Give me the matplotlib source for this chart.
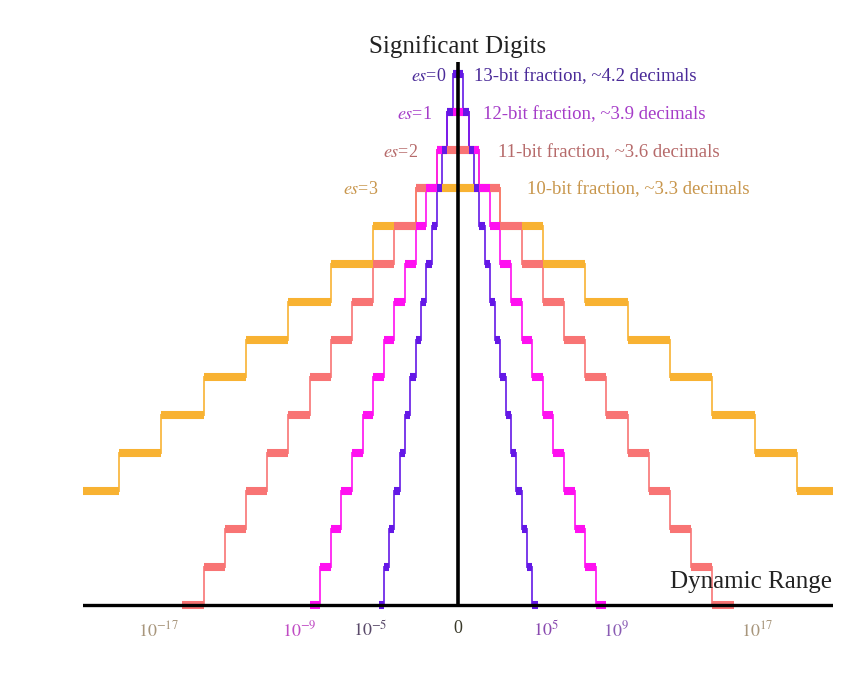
import numpy as np
import matplotlib
matplotlib.use("Agg")
import matplotlib.pyplot as plt

plt.rcParams['font.family'] = ['Liberation Serif', 'DejaVu Serif']
plt.rcParams['mathtext.fontset'] = 'stix'

# posit16 precision staircases, x in binades (log2 of magnitude), y in significant bits
es_values = [0, 1, 2, 3]
step_binades = [1, 2, 4, 8]
sig_bits = {
    0: [14, 13, 12, 11, 10, 9, 8, 7, 6, 5, 4, 3, 2, 1, 0],
    1: [13, 12, 11, 10, 9, 8, 7, 6, 5, 4, 3, 2, 1, 0],
    2: [12, 11, 10, 9, 8, 7, 6, 5, 4, 3, 2, 1, 0],
    3: [11, 10, 9, 8, 7, 6, 5, 4, 3, 2, 1, 0],
}
labels = ['13-bit fraction, ~4.2 decimals', '12-bit fraction, ~3.9 decimals',
          '11-bit fraction, ~3.6 decimals', '10-bit fraction, ~3.3 decimals']
tick_exps = [-17, -9, -5, 0, 5, 9, 17]
tick_labels = [r'$10^{-17}$', r'$10^{-9}$', r'$10^{-5}$', '0', r'$10^{5}$', r'$10^{9}$', r'$10^{17}$']

line_colors = ['#6418e6', '#ff10f0', '#f87474', '#f8b232']
text_colors = ['#4a2a98', '#a53cc8', '#b66a6a', '#c8964c']
tick_colors = ['#a8967c', '#c04cc4', '#5a4a6a', '#3a3a2a', '#8a4ab0', '#8a5cb4', '#a8967c']

fig = plt.figure(figsize=(8.65, 6.84), dpi=100)
ax = fig.add_axes([0.096, 0.0994, 0.867, 0.81])

# draw widest (es=3) first so narrower staircases sit on top
for es, w, col in reversed(list(zip(es_values, step_binades, line_colors))):
    bits = np.array(sig_bits[es], dtype=float)
    n = len(bits)
    # horizontal levels: top spans [-w, w], then each level one step outward
    starts = np.concatenate([[-w], w * np.arange(1, n)])
    ends = np.concatenate([[w], w * np.arange(2, n + 1)])
    for sgn in (1, -1):
        for i in range(n):
            xs = [starts[i], ends[i]] if i == 0 else [sgn * starts[i], sgn * ends[i]]
            ax.plot(xs, [bits[i], bits[i]], color=col, lw=5.8, solid_capstyle='butt', zorder=2)
        for i in range(1, n):
            ax.plot([sgn * starts[i]] * 2, [bits[i - 1], bits[i]], color=col, lw=1.4,
                    alpha=0.85, zorder=1)

xmax = 70.75
ax.axhline(0, color='black', lw=2.4, zorder=5)
ax.plot([0, 0], [0, 14.33], color='black', lw=2.6, zorder=5)

ax.set_xlim(-xmax, xmax)
ax.set_ylim(-0.3, 14.33)
for s in ax.spines.values():
    s.set_visible(False)
ax.set_yticks([])
ax.set_xticks(np.array(tick_exps) * np.log2(10.0))
ax.set_xticklabels(tick_labels, fontsize=13)
ax.tick_params(axis='x', length=0, pad=3)
for lbl, c in zip(ax.get_xticklabels(), tick_colors):
    lbl.set_color(c)

# es labels
es_x = [-2.1, -4.9, -7.5, -15.1]
txt_x = [3.0, 4.7, 7.5, 13.0]
for es, ex, tx, tc in zip(es_values, es_x, txt_x, text_colors):
    y = sig_bits[es][0] - 0.05
    ax.text(ex, y, r'$es$=%d' % es, color=tc, fontsize=13, ha='right', va='center')
    ax.text(tx, y, labels[es], color=tc, fontsize=13.5, ha='left', va='center')

ax.text(0, 14.75, 'Significant Digits', fontsize=18, ha='center', va='center', color='#222222')
ax.text(xmax - 0.2, 0.6, 'Dynamic Range', fontsize=18, ha='right', va='center', color='#222222')

fig.savefig('out.png', dpi=100)
